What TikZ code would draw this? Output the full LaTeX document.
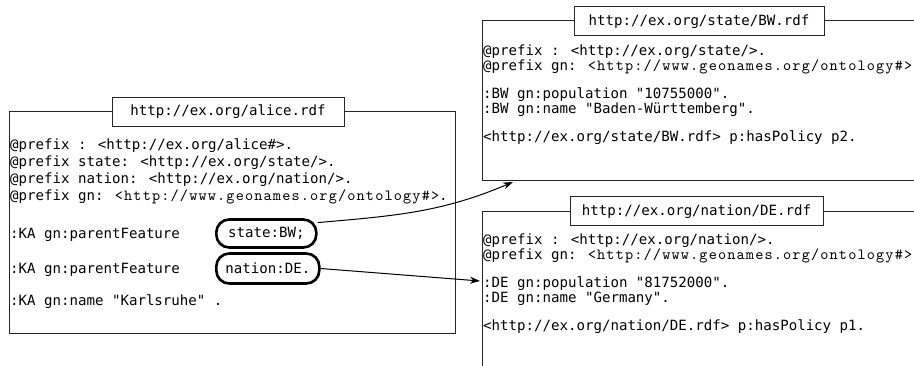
\documentclass[tikz,border=0pt]{standalone}
\usepackage{fontspec}
\usetikzlibrary{arrows.meta}
\newfontfamily\dvmono{DejaVu Sans Mono}[Ligatures=TeXOff]
\newfontfamily\geofont{lmmono10-regular.otf}[LetterSpace=7.5]
\newcommand\bodyfont{\dvmono\fontsize{14.1}{15}\selectfont}
\newcommand\geo[1]{{\geofont\fontsize{15.5}{16}\selectfont#1}}
\tikzset{
  body/.style={anchor=base west, inner sep=0pt, font=\bodyfont},
  frame/.style={draw=black!85, line width=1pt},
  titlebox/.style={draw=black!85, fill=white, line width=1pt, minimum height=29pt,
    inner xsep=8pt, inner ysep=0pt, font=\bodyfont},
  pill/.style={draw=black, line width=2.6pt, rounded corners=13pt, inner sep=0pt,
    minimum height=28pt, anchor=west, font=\bodyfont},
  link/.style={-{Stealth[length=10pt,width=7pt]}, line width=1pt}
}
\begin{document}
\begin{tikzpicture}[x=1pt,y=1pt]
\useasboundingbox (0,0) rectangle (914,-366);
\fill[white] (0,0) rectangle (914,-366);

% document alice.rdf
\draw[frame] (9,-112) rectangle (455,-334);
\node[titlebox, minimum width=232pt] (alicetitle) at (228,-112) {http://ex.org/alice.rdf};
\node[body] (a1) at (10,-150) {@prefix : <http://ex.org/alice\#>.};
\node[body] (a2) at (10,-167) {@prefix state: <http://ex.org/state/>.};
\node[body] (a3) at (10,-184) {@prefix nation: <http://ex.org/nation/>.};
\node[body] (a4) at (10,-201) {@prefix gn: \geo{<http://www.geonames.org/ontology\#>}.};
\node[body] (a5) at (10,-239) {:KA gn:parentFeature};
\node[body] (a6) at (10,-274) {:KA gn:parentFeature};
\node[body] (a7) at (10,-306) {:KA gn:name "Karlsruhe" .};
\node[pill, minimum width=100pt] (bwref) at (215,-233.5) {state:BW;};
\node[pill, minimum width=103pt, minimum height=30pt] (deref) at (215,-268.5) {nation:DE.};

% document state/BW.rdf
\draw[frame] (914,-21) -- (482,-21) -- (482,-181) -- (914,-181);
\node[titlebox, minimum width=250pt] (bwtitle) at (699,-21.5) {http://ex.org/state/BW.rdf};
\node[body] (b1) at (483,-56) {@prefix : <http://ex.org/state/>.};
\node[body] (b2) at (483,-70.5) {@prefix gn: \geo{<http://www.geonames.org/ontology\#>}};
\node[body] (b3) at (483,-99) {:BW gn:population "10755000".};
\node[body] (b4) at (483,-113.5) {:BW gn:name "Baden-Württemberg".};
\node[body] (b5) at (483,-142) {<http://ex.org/state/BW.rdf> p:hasPolicy p2.};
\coordinate (bwin) at (513,-182);

% document nation/DE.rdf
\draw[frame] (914,-212) -- (482,-212) -- (482,-366);
\node[titlebox, minimum width=253pt] (detitle) at (696.5,-211.5) {http://ex.org/nation/DE.rdf};
\node[body] (d1) at (483,-245) {@prefix : <http://ex.org/nation/>.};
\node[body] (d2) at (483,-260) {@prefix gn: \geo{<http://www.geonames.org/ontology\#>}};
\node[body] (d3) at (483,-288) {:DE gn:population "81752000".};
\node[body] (d4) at (483,-303) {:DE gn:name "Germany".};
\node[body] (d5) at (483,-331) {<http://ex.org/nation/DE.rdf> p:hasPolicy p1.};
\coordinate (dein) at (480,-281);

% links between the documents
\draw[link] (bwref.12) to[out=5,in=203] (bwin);
\draw[link] (deref.east) -- (dein);
\end{tikzpicture}
\end{document}
